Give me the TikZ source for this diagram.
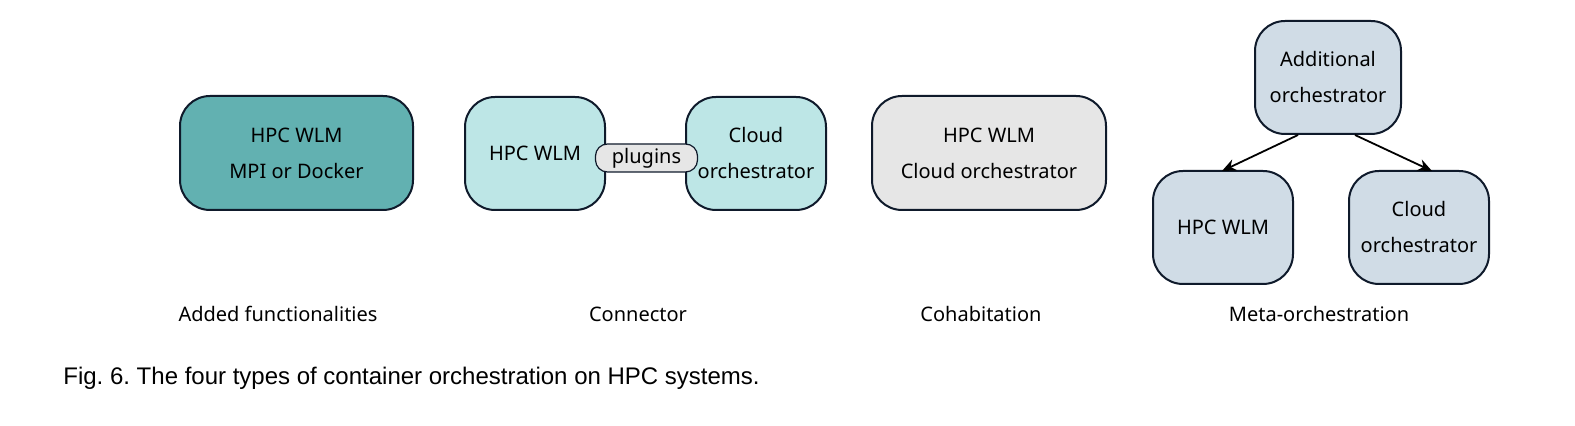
\documentclass[tikz,border=0pt]{standalone}
\usepackage{fontspec}
\setmainfont{Noto Sans}
\newfontfamily\capfont{Liberation Sans}
\usetikzlibrary{arrows.meta}
\definecolor{teal1}{HTML}{62B1B1}
\definecolor{cyan1}{HTML}{BDE6E6}
\definecolor{grey1}{HTML}{E6E6E6}
\definecolor{meta1}{HTML}{D0DCE6}
\definecolor{edge1}{HTML}{0F1A2B}
\begin{document}
\frenchspacing
\begin{tikzpicture}[x=0.5pt,y=-0.5pt,
  box/.style={draw=edge1, line width=1pt, rounded corners=15pt, align=center,
    font=\fontsize{10}{18}\selectfont, inner sep=0pt},
  pill/.style={draw=edge1, line width=0.6pt, rounded corners=6pt, fill=grey1,
    font=\fontsize{10}{12}\selectfont, minimum width=51pt, minimum height=14pt, inner sep=0pt},
  lbl/.style={font=\fontsize{10}{12}\selectfont, inner sep=0pt},
  arr/.style={line width=0.9pt, -{Stealth[length=7pt,width=6pt]}}]
\useasboundingbox (0,0) rectangle (1575,426);
% Added functionalities
\node[box, fill=teal1, minimum width=116.5pt, minimum height=57pt] (af) at (296.5,153) {HPC WLM\\MPI or Docker};
% Connector
\node[box, fill=cyan1, minimum width=70pt, minimum height=56.5pt] (hpc2) at (535,153.5) {HPC WLM};
\node[box, fill=cyan1, minimum width=70pt, minimum height=56.5pt] (cloud2) at (756,153.5) {Cloud\\orchestrator};
\node[pill] (plug) at (646.5,158) {plugins};
% Cohabitation
\node[box, fill=grey1, minimum width=117pt, minimum height=57pt] (coh) at (989,153) {HPC WLM\\Cloud orchestrator};
% Meta-orchestration
\node[box, fill=meta1, minimum width=73pt, minimum height=56.5pt] (top) at (1328,77.5) {Additional\\orchestrator};
\node[box, fill=meta1, minimum width=70pt, minimum height=56.5pt] (bl) at (1223,227.5) {HPC WLM};
\node[box, fill=meta1, minimum width=70pt, minimum height=56.5pt] (br) at (1419,227.5) {Cloud\\orchestrator};
\draw[arr] ([xshift=-15pt]top.south) -- ([xshift=-0.5pt,yshift=-0.5pt]bl.north);
\draw[arr] ([xshift=13.5pt]top.south) -- ([xshift=6.5pt,yshift=-0.5pt]br.north);
% labels
\node[lbl] (l1) at (278,314) {Added functionalities};
\node[lbl] (l2) at (638,314) {Connector};
\node[lbl] (l3) at (981,314) {Cohabitation};
\node[lbl] (l4) at (1319,314) {Meta-orchestration};
\node[anchor=west, inner sep=0pt, font=\capfont\fontsize{12}{14}\selectfont] (cap) at (63,378) {Fig. 6. The four types of container orchestration on HPC systems.};
\end{tikzpicture}
\end{document}
